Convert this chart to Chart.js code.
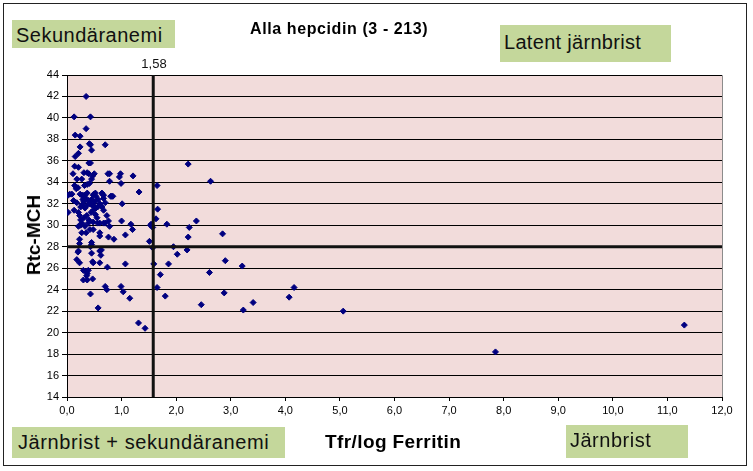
<!DOCTYPE html>
<html>
<head>
<meta charset="utf-8">
<script src="https://cdn.jsdelivr.net/npm/chart.js@4/dist/chart.umd.min.js"></script>
<style>
  html, body { margin: 0; padding: 0; background: #fff; }
  #wrap { position: relative; width: 753px; height: 471px; overflow: hidden; font-family: "Liberation Sans", Arial, sans-serif; }
  #frame { position: absolute; left: 3px; top: 3px; width: 744px; height: 463px; border: 1px solid #222; box-sizing: border-box; }
  canvas { position: absolute; left: 0; top: 0; }
  .box { position: absolute; background: #c4d79b; color: #111; font-size: 20px; line-height: 1; padding: 5px 0 0 4px; box-sizing: border-box; white-space: nowrap; letter-spacing: 0.5px; }
  .txt { position: absolute; white-space: nowrap; color: #000; }
</style>
</head>
<body>
<div id="wrap">
  <div id="frame"></div>
  <canvas id="scatterChart" width="753" height="471"></canvas>
  <div class="txt" style="left:250px; top:20px; font-size:16px; font-weight:bold; letter-spacing:0.6px;">Alla hepcidin (3 - 213)</div>
  <div class="box" style="left:12px; top:20px; width:163px; height:28px;">Sekundäranemi</div>
  <div class="box" style="left:500px; top:25px; width:171px; height:37px; padding-top:7px; letter-spacing:0.3px;">Latent järnbrist</div>
  <div class="box" style="left:12px; top:427px; width:273px; height:31px; padding-left:6px; letter-spacing:0.6px;">Järnbrist + sekundäranemi</div>
  <div class="box" style="left:566px; top:425px; width:122px; height:33px; padding-top:5px;">Järnbrist</div>
  <div class="txt" style="left:325px; top:431px; font-size:19px; font-weight:bold; letter-spacing:0.4px;">Tfr/log Ferritin</div>
  <div class="txt" style="left:34px; top:235px; font-size:19px; font-weight:bold; transform:translate(-50%,-50%) rotate(-90deg);">Rtc-MCH</div>
  <div class="txt" style="left:154px; top:56px; font-size:13px; transform:translateX(-50%); color:#111;">1,58</div>
</div>
<script>
// Tfr/log Ferritin (x) and Rtc-MCH (y)
const tfrLogFerritin = [
  0.35,0.13,0.43,0.35,0.15,0.24,0.41,0.43,0.70,0.24,
  0.45,0.21,0.15,0.40,0.43,0.14,0.21,0.11,0.31,0.37,
  0.40,0.47,0.50,0.75,0.78,0.98,0.96,1.21,0.18,0.27,
  0.45,0.78,0.99,0.14,0.17,0.20,0.32,0.37,0.41,1.65,
  0.05,0.02,0.24,0.29,0.32,0.37,0.49,0.52,0.64,0.67,
  0.82,1.32,2.22,2.63,0.09,0.29,0.29,0.31,0.48,0.53,
  0.45,0.51,0.57,0.65,0.67,0.80,0.84,0.02,0.13,0.21,
  0.23,0.25,0.27,0.31,0.36,0.42,0.45,0.49,0.53,0.56,
  0.48,0.60,0.64,0.67,0.70,1.01,0.73,0.76,0.70,0.78,
  1.00,0.21,0.25,0.33,0.39,0.48,0.56,0.60,0.67,1.17,
  1.20,1.54,1.57,1.63,1.66,1.83,2.24,0.27,0.35,0.42,
  0.48,0.60,0.60,0.76,0.86,1.07,0.23,0.23,0.45,0.45,
  1.51,1.57,0.21,0.45,0.60,0.62,0.18,0.23,0.47,0.48,
  0.60,0.74,1.07,0.30,0.35,0.37,0.36,0.39,0.30,0.37,
  0.47,0.70,0.73,0.99,1.03,1.15,0.43,0.57,1.31,1.43,
  1.53,2.37,2.22,2.85,1.95,2.20,2.02,1.59,1.86,2.90,
  3.21,1.71,2.61,1.65,1.80,2.88,2.46,3.23,3.41,4.07,
  4.16,5.06,7.85,11.31,0.35,0.40,0.38,0.33,0.44,0.52,
  0.40,0.55,0.28,0.25,0.18,0.12,0.43,0.20,0.63
];
const rtcMch = [
  42.0,40.1,40.1,39.0,38.4,38.3,37.6,37.5,37.5,37.3,
  37.0,36.7,36.4,35.8,35.8,35.5,35.4,34.8,34.9,34.9,
  34.8,34.6,34.8,34.8,34.8,34.8,34.5,34.6,34.3,34.3,
  34.3,34.1,33.9,33.7,33.4,33.5,33.7,33.8,33.9,33.7,
  32.9,32.8,32.9,32.8,32.8,33.0,32.9,33.0,33.0,32.8,
  32.7,33.1,35.7,34.1,32.9,32.7,32.4,32.2,32.8,32.7,
  32.4,32.2,32.4,32.9,32.5,32.7,32.7,31.2,31.4,31.2,
  30.9,30.5,30.2,30.7,30.9,32.0,31.9,31.8,31.6,31.7,
  31.4,32.0,31.7,31.4,32.1,32.0,30.9,30.4,30.2,29.9,
  30.4,29.9,30.0,29.9,30.2,30.3,30.2,30.2,30.2,30.1,
  29.6,30.1,29.8,30.6,31.5,30.1,29.8,29.3,29.3,29.6,
  29.6,29.3,29.0,28.9,28.7,29.1,28.7,28.3,28.4,28.2,
  28.5,27.9,27.6,27.4,27.6,27.2,26.8,26.5,26.6,26.5,
  26.5,26.1,26.4,25.8,25.7,25.5,25.3,25.8,24.9,24.9,
  25.0,24.3,24.0,24.3,23.8,23.2,23.6,22.3,20.9,20.4,
  30.0,30.4,28.9,29.2,28.0,27.7,27.3,26.4,26.4,26.7,
  26.2,25.4,25.6,24.2,23.4,23.7,22.6,22.1,22.8,23.3,
  24.2,22.0,18.2,20.7,32.5,32.3,31.9,31.6,31.2,31.0,
  30.5,30.7,31.9,31.7,32.1,32.3,28.0,27.5,27.7
];

// cut-off lines and axis ranges
const cutX = 1.58;
const cutY = 28;
const xRange = [0, 12];
const yRange = [14, 44];

const points = tfrLogFerritin.map((x, i) => ({ x: x, y: rtcMch[i] }));

// pink plot background + grey frame on top/right
const plotArea = {
  id: 'plotArea',
  beforeDraw(chart) {
    const a = chart.chartArea;
    const ctx = chart.ctx;
    ctx.save();
    ctx.fillStyle = '#f2dcdb';
    ctx.fillRect(a.left, a.top, a.right - a.left, a.bottom - a.top);
    ctx.strokeStyle = '#8c8c8c';
    ctx.lineWidth = 1;
    ctx.beginPath();
    ctx.moveTo(a.left, a.top + 0.5);
    ctx.lineTo(a.right + 0.5, a.top + 0.5);
    ctx.lineTo(a.right + 0.5, a.bottom);
    ctx.stroke();
    ctx.restore();
  }
};

const ctx = document.getElementById('scatterChart');
new Chart(ctx, {
  type: 'scatter',
  data: {
    datasets: [
      {
        type: 'line',
        data: [{ x: cutX, y: yRange[0] }, { x: cutX, y: yRange[1] }],
        borderColor: '#111',
        borderWidth: 3,
        pointRadius: 0,
        clip: false,
        order: 0
      },
      {
        type: 'line',
        data: [{ x: xRange[0], y: cutY }, { x: xRange[1], y: cutY }],
        borderColor: '#111',
        borderWidth: 3,
        pointRadius: 0,
        clip: false,
        order: 0
      },
      {
        data: points,
        pointStyle: 'rectRot',
        pointRadius: 3,
        borderWidth: 1,
        backgroundColor: '#000080',
        borderColor: '#000080',
        order: 1
      }
    ]
  },
  options: {
    responsive: false,
    animation: false,
    events: [],
    layout: {
      padding: { top: 75, right: 31, bottom: 44, left: 0 }
    },
    scales: {
      x: {
        type: 'linear',
        min: xRange[0],
        max: xRange[1],
        afterFit: function(scale) { scale.height = 30; },
        ticks: {
          stepSize: 1,
          padding: 3,
          color: '#000',
          font: { family: '"Liberation Sans", Arial, sans-serif', size: 11 },
          callback: function(v) { return v.toFixed(1).replace('.', ','); }
        },
        grid: { drawOnChartArea: false, drawTicks: true, tickLength: 4, color: '#000' },
        border: { color: '#000', width: 1 }
      },
      y: {
        min: yRange[0],
        max: yRange[1],
        afterFit: function(scale) { scale.width = 67; },
        ticks: {
          stepSize: 2,
          padding: 3,
          color: '#000',
          font: { family: '"Liberation Sans", Arial, sans-serif', size: 11 }
        },
        grid: { color: '#000', lineWidth: 1, tickLength: 5 },
        border: { color: '#000', width: 1 }
      }
    },
    plugins: {
      legend: { display: false },
      tooltip: { enabled: false }
    }
  },
  plugins: [plotArea]
});
</script>
</body>
</html>
